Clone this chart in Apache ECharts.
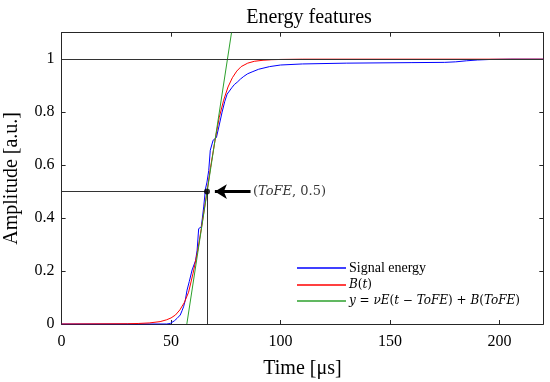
<!DOCTYPE html>
<html><head><meta charset="utf-8">
<script src="https://cdn.jsdelivr.net/npm/echarts@6/dist/echarts.min.js"></script>
<style>html,body{margin:0;padding:0;background:#fff}#c{width:550px;height:382px}</style>
</head><body><div id="c"></div>
<script>
// Data
const blueT = [0, 48, 49.6, 50.4, 51.5, 52.7, 53.5, 54.2, 55, 55.7, 56.5, 57.3, 58.3, 59.6, 60.5, 61.2, 61.9, 62.6, 63.8, 64.3, 64.9, 65.7, 66.4, 67.2, 67.9, 69.2, 70.7, 71.8, 73.3, 74.5, 75.6, 76.5, 77.9, 79, 80.2, 81.7, 83.2, 85, 87, 90, 95, 100, 110, 130, 160, 175, 180, 185, 190, 196, 205, 220];
const blueV = [0, 0, 0.002, 0.005, 0.012, 0.021, 0.028, 0.034, 0.05, 0.065, 0.09, 0.128, 0.16, 0.204, 0.21, 0.24, 0.279, 0.36, 0.367, 0.40, 0.442, 0.51, 0.536, 0.58, 0.656, 0.694, 0.704, 0.744, 0.80, 0.84, 0.868, 0.875, 0.894, 0.905, 0.913, 0.925, 0.935, 0.945, 0.952, 0.962, 0.972, 0.978, 0.982, 0.985, 0.987, 0.988, 0.99, 0.994, 0.997, 0.999, 1, 1];
const redT = [0, 30, 35, 40, 45, 48, 50, 52, 54, 56, 58, 60, 62, 64, 66.4, 68, 70, 72, 74, 76, 78, 80, 82, 85, 88, 92, 96, 100, 110, 220];
const redV = [0, 0.001, 0.002, 0.004, 0.009, 0.016, 0.023, 0.034, 0.053, 0.08, 0.12, 0.19, 0.27, 0.37, 0.5, 0.59, 0.69, 0.78, 0.845, 0.895, 0.93, 0.955, 0.972, 0.985, 0.992, 0.996, 0.998, 0.999, 1, 1];
const greenT = [57.2, 77.6];
const greenV = [0, 1.1];
const tofe = 66.4;
const tofeV = 0.5;
const xTicks = [0, 50, 100, 150, 200];
const yTicks = [0, 0.2, 0.4, 0.6, 0.8, 1];
const seriesNames = ['Signal energy', 'B(t)', 'y = \u03BDE(t \u2212 ToFE) + B(ToFE)'];

const zip = (a, b) => a.map((v, i) => [v, b[i]]);
const serif = 'Liberation Serif';
const mathF = 'DejaVu Serif';
const axCol = '#262626';

const chart = echarts.init(document.getElementById('c'), null, {renderer: 'canvas'});
const xBase = {
  type: 'value', min: 0, max: 220,
  axisLine: {show: true, onZero: false, lineStyle: {color: axCol, width: 1}},
  axisTick: {show: true, inside: true, length: 4, customValues: xTicks, lineStyle: {color: axCol}},
  splitLine: {show: false}
};
const yBase = {
  type: 'value', min: 0, max: 1.1,
  axisLine: {show: true, onZero: false, lineStyle: {color: axCol, width: 1}},
  axisTick: {show: true, inside: true, length: 4, customValues: yTicks, lineStyle: {color: axCol}},
  splitLine: {show: false}
};
chart.setOption({
  animation: false,
  title: {text: 'Energy features', left: 304, top: 3, textAlign: 'center',
    textStyle: {fontFamily: serif, fontSize: 20, fontWeight: 'normal', color: '#000'}},
  grid: {left: 61.6, right: 6.7, top: 32.7, bottom: 58, containLabel: false, outerBoundsMode: 'none'},
  legend: {
    orient: 'vertical', left: 297, top: 261, padding: 0, itemWidth: 49, itemHeight: 1.4, itemGap: 4,
    icon: 'rect',
    data: seriesNames,
    textStyle: {fontFamily: serif, fontSize: 14, color: '#000', padding: [0, 0, 0, -2],
      rich: {i: {fontFamily: mathF, fontStyle: 'italic', fontSize: 12}, n: {fontFamily: mathF, fontSize: 12}, s: {fontFamily: serif, fontSize: 14}}},
    formatter: function (n) {
      if (n === seriesNames[0]) return '{s|Signal energy}';
      if (n === seriesNames[1]) return '{i|B}{n|(}{i|t}{n|)}';
      return '{i|y}{n| = }{i|\u03BDE}{n|(}{i|t}{n| \u2212 }{i|ToFE}{n|) + }{i|B}{n|(}{i|ToFE}{n|)}';
    }
  },
  xAxis: [
    Object.assign({}, xBase, {position: 'bottom', name: 'Time [\u03BCs]', nameLocation: 'middle', nameGap: 35,
      nameTextStyle: {fontFamily: serif, fontSize: 20, color: '#000'},
      axisLabel: {customValues: xTicks, fontFamily: serif, fontSize: 16, color: '#000', margin: 10}}),
    Object.assign({}, xBase, {position: 'top', axisLabel: {show: false}})
  ],
  yAxis: [
    Object.assign({}, yBase, {position: 'left', name: 'Amplitude [a.u.]', nameLocation: 'middle', nameGap: 40,
      nameTextStyle: {fontFamily: serif, fontSize: 20, color: '#000'},
      axisLabel: {customValues: yTicks, fontFamily: serif, fontSize: 16, color: '#000', margin: 7,
        formatter: v => String(Math.round(v * 10) / 10)}}),
    Object.assign({}, yBase, {position: 'right', axisLabel: {show: false}})
  ],
  series: [
    {type: 'line', name: 'refs', data: [], silent: true, symbol: 'none',
      markLine: {silent: true, symbol: 'none', animation: false, label: {show: false},
        lineStyle: {color: '#333', width: 1, type: 'solid'},
        data: [
          [{coord: [0, 1]}, {coord: [220, 1]}],
          [{coord: [0, tofeV]}, {coord: [tofe, tofeV]}],
          [{coord: [tofe, 0]}, {coord: [tofe, tofeV]}]
        ]}},
    {type: 'line', name: seriesNames[0], data: zip(blueT, blueV), symbol: 'none', showSymbol: false,
      lineStyle: {color: '#0000ff', width: 1}, itemStyle: {color: '#0000ff'}},
    {type: 'line', name: seriesNames[1], data: zip(redT, redV), symbol: 'none', showSymbol: false,
      lineStyle: {color: '#ff0000', width: 1}, itemStyle: {color: '#ff0000'}},
    {type: 'line', name: seriesNames[2], data: zip(greenT, greenV), symbol: 'none', showSymbol: false,
      lineStyle: {color: '#2ca02c', width: 1}, itemStyle: {color: '#2ca02c'}},
    {type: 'scatter', name: 'pt', data: [[tofe, tofeV]], symbol: 'circle', symbolSize: 6,
      itemStyle: {color: '#000'}, z: 5,
      markLine: {silent: true, symbol: ['none', 'arrow'], symbolSize: [11, 12], label: {show: false},
        lineStyle: {color: '#000', width: 3, type: 'solid'},
        data: [[{coord: [86.3, tofeV]}, {coord: [70.0, tofeV]}]]}},
    {type: 'scatter', name: 'lbl', data: [[87.4, tofeV]], symbolSize: 0,
      label: {show: true, position: 'right', distance: 0, color: '#000',
        formatter: '{n|(}{i|ToFE}{n|, 0.5)}',
        rich: {n: {fontFamily: mathF, fontSize: 13, color: '#000'}, i: {fontFamily: mathF, fontStyle: 'italic', fontSize: 13, color: '#000'}}}}
  ]
});
</script></body></html>
